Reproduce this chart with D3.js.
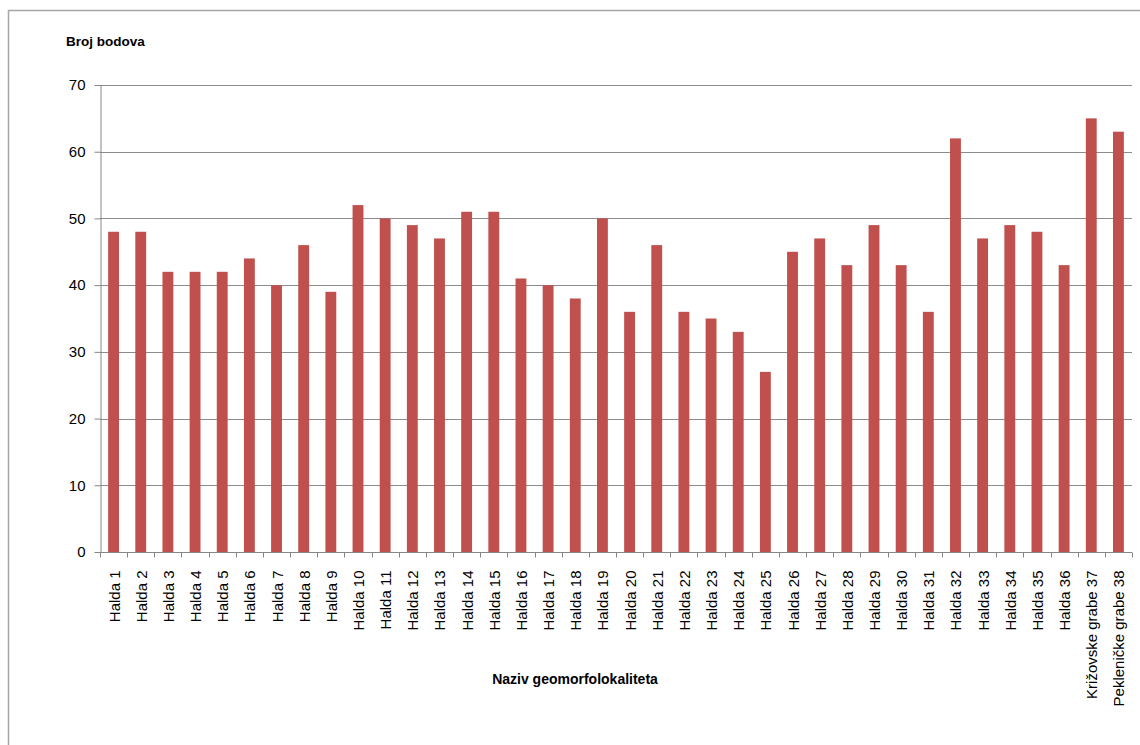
<!DOCTYPE html>
<html>
<head>
<meta charset="utf-8">
<script src="https://cdn.jsdelivr.net/npm/d3@7"></script>
<style>
  body { margin: 0; background: #fff; }
  svg { display: block; }
</style>
</head>
<body>
<div id="chart"></div>
<script>
// data
var categories = [
  "Halda 1", "Halda 2", "Halda 3", "Halda 4", "Halda 5", "Halda 6", "Halda 7", "Halda 8",
  "Halda 9", "Halda 10", "Halda 11", "Halda 12", "Halda 13", "Halda 14", "Halda 15", "Halda 16",
  "Halda 17", "Halda 18", "Halda 19", "Halda 20", "Halda 21", "Halda 22", "Halda 23", "Halda 24",
  "Halda 25", "Halda 26", "Halda 27", "Halda 28", "Halda 29", "Halda 30", "Halda 31", "Halda 32",
  "Halda 33", "Halda 34", "Halda 35", "Halda 36", "Križovske grabe 37", "Pekleničke grabe 38"
];
var points = [
  48, 48, 42, 42, 42, 44, 40, 46,
  39, 52, 50, 49, 47, 51, 51, 41,
  40, 38, 50, 36, 46, 36, 35, 33,
  27, 45, 47, 43, 49, 43, 36, 62,
  47, 49, 48, 43, 65, 63
];
var yTicks = [0, 10, 20, 30, 40, 50, 60, 70];

var W = 1140, H = 745;
var margin = {top: 85, right: 8, bottom: 193, left: 100},
    width = W - margin.left - margin.right,
    height = H - margin.top - margin.bottom;

var svg = d3.select("#chart")
  .append("svg")
  .attr("width", W)
  .attr("height", H);

// chart frame
svg.append("rect")
  .attr("x", 8.5)
  .attr("y", 10.5)
  .attr("width", W + 20)
  .attr("height", H + 20)
  .attr("fill", "none")
  .attr("stroke", "#a6a6a6")
  .attr("stroke-width", 1.5);

var g = svg.append("g")
  .attr("transform", "translate(" + margin.left + "," + margin.top + ")");

var x = d3.scaleBand()
  .domain(categories)
  .range([0, width])
  .paddingInner(0.6)
  .paddingOuter(0.3);

var y = d3.scaleLinear()
  .domain([0, 70])
  .range([height, 0]);

// gridlines
g.append("g")
  .selectAll("line")
  .data(yTicks.slice(1))
  .enter()
  .append("line")
    .attr("x1", 0)
    .attr("x2", width)
    .attr("y1", function(d) { return Math.round(y(d)) + 0.5; })
    .attr("y2", function(d) { return Math.round(y(d)) + 0.5; })
    .attr("stroke", "#8c8c8c")
    .attr("stroke-width", 1);

// bars
g.selectAll("rect.bar")
  .data(points)
  .enter()
  .append("rect")
    .attr("class", "bar")
    .attr("x", function(d, i) { return x(categories[i]); })
    .attr("y", function(d) { return y(d); })
    .attr("width", x.bandwidth())
    .attr("height", function(d) { return height - y(d); })
    .attr("fill", "#c0504d");

// y axis
var yAxis = g.append("g")
  .attr("transform", "translate(0.5,0)")
  .call(d3.axisLeft(y).tickValues(yTicks).tickSize(6).tickSizeOuter(0).tickPadding(9));
yAxis.selectAll("line, path").attr("stroke", "#868686");
yAxis.selectAll("text")
  .style("font-family", "Liberation Sans, Arial, sans-serif")
  .style("font-size", "15px")
  .attr("fill", "#000");

// x axis: tick marks sit between categories
var step = x.step();
var xAxis = g.append("g")
  .attr("transform", "translate(0," + (Math.round(height) + 0.5) + ")");
xAxis.append("line")
  .attr("x1", 0)
  .attr("x2", width)
  .attr("stroke", "#868686");
xAxis.selectAll("line.tick")
  .data(d3.range(categories.length + 1))
  .enter()
  .append("line")
    .attr("class", "tick")
    .attr("x1", function(d) { return Math.round(d * step) + 0.5; })
    .attr("x2", function(d) { return Math.round(d * step) + 0.5; })
    .attr("y1", 0)
    .attr("y2", 5)
    .attr("stroke", "#868686");
xAxis.selectAll("text")
  .data(categories)
  .enter()
  .append("text")
    .attr("transform", function(d) {
      return "translate(" + (x(d) + x.bandwidth() / 2 + 6) + ",18)rotate(-90)";
    })
    .attr("text-anchor", "end")
    .style("font-family", "Liberation Sans, Arial, sans-serif")
    .style("font-size", "15px")
    .attr("fill", "#000")
    .text(function(d) { return d; });

// axis titles
svg.append("text")
  .attr("x", 66)
  .attr("y", 46)
  .style("font-family", "Liberation Sans, Arial, sans-serif")
  .style("font-size", "13.5px")
  .style("font-weight", "bold")
  .attr("fill", "#000")
  .text("Broj bodova");

svg.append("text")
  .attr("x", 575)
  .attr("y", 684)
  .attr("text-anchor", "middle")
  .style("font-family", "Liberation Sans, Arial, sans-serif")
  .style("font-size", "14px")
  .style("font-weight", "bold")
  .attr("fill", "#000")
  .text("Naziv geomorfolokaliteta");
</script>
</body>
</html>
